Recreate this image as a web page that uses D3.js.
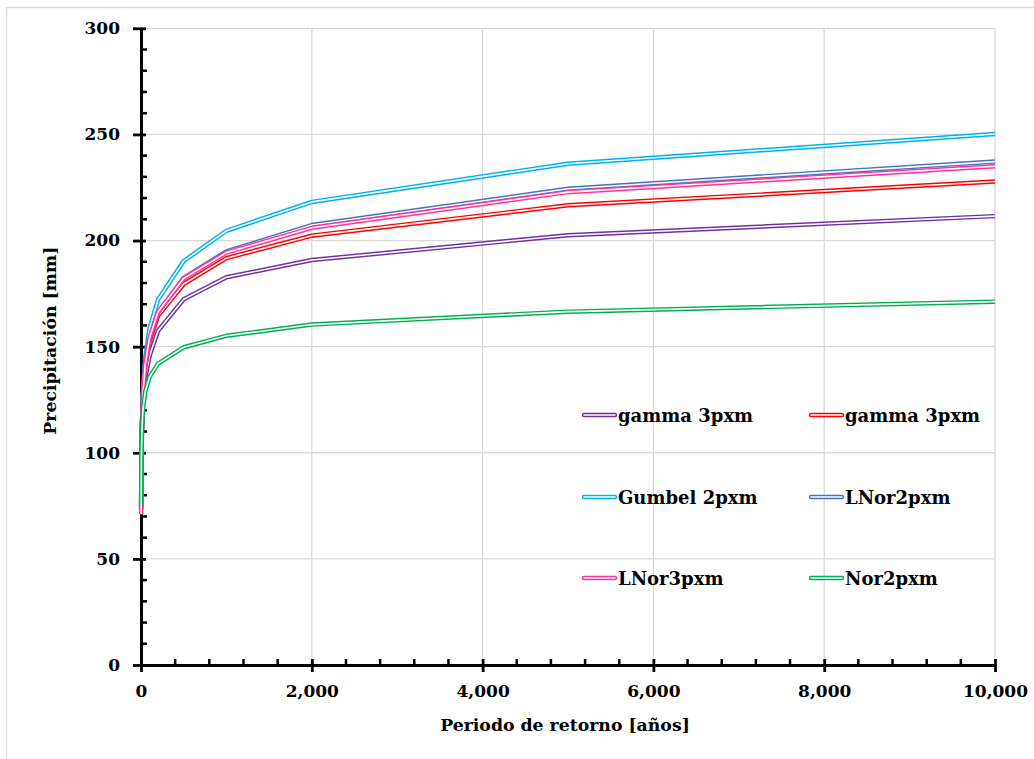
<!DOCTYPE html>
<html>
<head>
<meta charset="utf-8">
<script src="https://cdn.jsdelivr.net/npm/d3@7"></script>
<style>
  html, body { margin: 0; padding: 0; background: #fff; }
  svg { display: block; }
  text { font-family: "DejaVu Serif", "Liberation Serif", serif; font-weight: bold; fill: #000; }
</style>
</head>
<body>
<svg id="chart" width="1034" height="759"></svg>
<script>
// ---- data ----
const returnPeriods = [2, 5, 10, 20, 25, 50, 100, 200, 500, 1000, 2000, 5000, 10000];
const gammaPurple = [74.0, 96.0, 109.0, 121.0, 124.5, 135.3, 145.6, 157.5, 172.3, 182.7, 190.8, 202.5, 211.5];
const gammaRed    = [73.0, 96.5, 111.0, 124.5, 128.5, 140.8, 152.5, 164.5, 179.5, 191.7, 202.3, 216.6, 227.8];
const gumbel2     = [74.9, 97.3, 112.2, 126.4, 131.0, 144.9, 158.7, 172.2, 190.3, 204.6, 218.2, 236.2, 250.2];
const lnor2       = [74.5, 96.7, 110.9, 124.3, 128.4, 141.2, 153.6, 166.1, 182.4, 194.9, 207.3, 224.4, 237.2];
const lnor3       = [71.0, 95.5, 110.5, 124.5, 128.8, 141.8, 154.2, 166.4, 182.2, 194.3, 206.0, 222.8, 235.0];
const nor2        = [75.0, 98.0, 109.2, 118.4, 121.1, 128.8, 135.7, 142.0, 149.7, 155.1, 160.4, 166.5, 171.2];

const seriesNames  = ["gamma 3pxm", "gamma 3pxm", "Gumbel 2pxm", "LNor2pxm", "LNor3pxm", "Nor2pxm"];
const seriesValues = [gammaPurple, gammaRed, gumbel2, lnor2, lnor3, nor2];
const seriesColors = ["#7030A0", "#FF0000", "#00B0F0", "#4472C4", "#FF3399", "#00B050"];

const yMajorTicks = [0, 50, 100, 150, 200, 250, 300];
const xMajorTicks = [0, 2000, 4000, 6000, 8000, 10000];
const xTitle = "Periodo de retorno [años]";
const yTitle = "Precipitación [mm]";

// ---- layout ----
const svg = d3.select("#chart");
const L = 141, R = 995, T = 28.3, B = 665;
const x = d3.scaleLinear().domain([0, 10000]).range([L, R]);
const y = d3.scaleLinear().domain([0, 300]).range([B, T]);

// outer frame
svg.append("rect").attr("x", 6.5).attr("y", 7.5).attr("width", 1060).attr("height", 800)
  .attr("fill", "none").attr("stroke", "#D9D9D9").attr("stroke-width", 1.3);

// gridlines
const grid = svg.append("g");
grid.selectAll(".hg").data(yMajorTicks.filter(d => d > 0)).join("line")
  .attr("x1", L).attr("x2", R).attr("y1", d => y(d)).attr("y2", d => y(d))
  .attr("stroke", "#D9D9D9").attr("stroke-width", 1.3);
grid.selectAll(".vg").data(xMajorTicks.filter(d => d > 0)).join("line")
  .attr("x1", d => x(d)).attr("x2", d => x(d)).attr("y1", T).attr("y2", B)
  .attr("stroke", "#D9D9D9").attr("stroke-width", 1.3);

// axes
const minorY = d3.range(0, 301, 10).filter(d => d % 50 !== 0);
const minorX = d3.range(0, 10001, 400).filter(d => d % 2000 !== 0);

const yAxis = svg.append("g").attr("transform", `translate(${L},0)`)
  .call(d3.axisLeft(y).tickValues(yMajorTicks).tickSizeInner(8).tickSizeOuter(0).tickPadding(13));
yAxis.select(".domain").attr("stroke", "#000").attr("stroke-width", 3);
yAxis.selectAll(".tick line").attr("x1", 5).attr("stroke", "#000").attr("stroke-width", 2.8);
yAxis.selectAll(".tick text").style("font-size", "17px").style("font-family", '"DejaVu Serif", serif').style("font-weight", "bold");
yAxis.append("g").selectAll("line").data(minorY).join("line")
  .attr("x1", 0).attr("x2", 6).attr("y1", d => y(d)).attr("y2", d => y(d))
  .attr("stroke", "#000").attr("stroke-width", 2.5);

const xAxis = svg.append("g").attr("transform", `translate(0,${B})`)
  .call(d3.axisBottom(x).tickValues(xMajorTicks).tickFormat(d3.format(",")).tickSizeInner(7).tickSizeOuter(0).tickPadding(13));
xAxis.select(".domain").attr("stroke", "#000").attr("stroke-width", 3);
xAxis.selectAll(".tick line").attr("y1", -6).attr("stroke", "#000").attr("stroke-width", 2.8);
xAxis.selectAll(".tick text").style("font-size", "17px").style("font-family", '"DejaVu Serif", serif').style("font-weight", "bold");
xAxis.append("g").selectAll("line").data(minorX).join("line")
  .attr("x1", d => x(d)).attr("x2", d => x(d)).attr("y1", 0).attr("y2", -6)
  .attr("stroke", "#000").attr("stroke-width", 2.5);

// lines (double/compound style), drawn over the axes
const line = d3.line().x((d, i) => x(returnPeriods[i])).y(d => y(d));
const linesG = svg.append("g");
seriesValues.forEach((vals, k) => {
  linesG.append("path").attr("d", line(vals)).attr("fill", "none")
    .attr("stroke", seriesColors[k]).attr("stroke-width", 4.5).attr("stroke-linejoin", "round");
  linesG.append("path").attr("d", line(vals)).attr("fill", "none")
    .attr("stroke", "#fff").attr("stroke-width", 1.6).attr("stroke-linejoin", "round");
});

// titles
svg.append("text").attr("x", (L + R) / 2 - 3).attr("y", 731).attr("text-anchor", "middle")
  .style("font-size", "17.3px").text(xTitle);
svg.append("text").attr("transform", `translate(56,${(T + B) / 2 - 6}) rotate(-90)`)
  .attr("text-anchor", "middle").style("font-size", "17.3px").text(yTitle);

// legend
const legCols = [584, 811];
const legRows = [415, 497, 578];
const leg = svg.append("g");
seriesNames.forEach((name, k) => {
  const cx = legCols[k % 2], cy = legRows[Math.floor(k / 2)];
  leg.append("line").attr("x1", cx).attr("x2", cx + 31).attr("y1", cy).attr("y2", cy)
    .attr("stroke", seriesColors[k]).attr("stroke-width", 4.5).attr("stroke-linecap", "round");
  leg.append("line").attr("x1", cx).attr("x2", cx + 31).attr("y1", cy).attr("y2", cy)
    .attr("stroke", "#fff").attr("stroke-width", 1.6).attr("stroke-linecap", "round");
  leg.append("text").attr("x", cx + 34).attr("y", cy + 6.5).style("font-size", "18px").text(name);
});
</script>
</body>
</html>
